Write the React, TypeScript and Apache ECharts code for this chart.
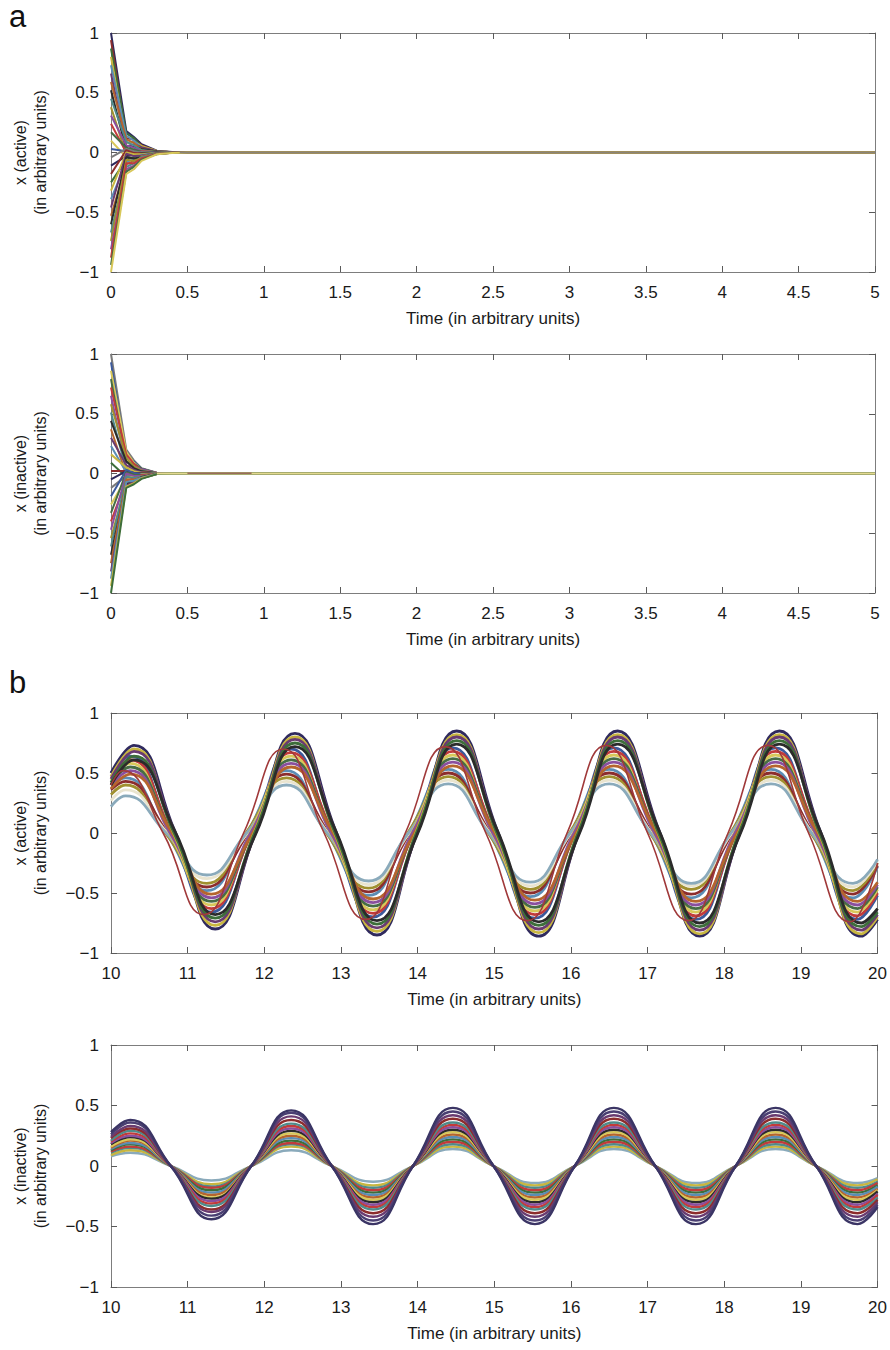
import React, { useEffect, useRef } from "react";
import * as echarts from "echarts";

// ---------- data ----------
const timeA = [0, 0.1, 0.15, 0.2, 0.3, 0.4, 0.5, 5];

// panel a (top): x (active) — values at timeA
const activeA: number[][] = [
  [1.0, 0.18, 0.13, 0.07, 0.015, 0.004, 0, 0],
  [0.94, 0.12, 0.11, 0.06, 0.012, 0.003, 0, 0],
  [0.87, 0.16, 0.12, 0.05, 0.01, 0.003, 0, 0],
  [0.8, 0.08, 0.09, 0.055, 0.012, 0.003, 0, 0],
  [0.73, 0.14, 0.1, 0.04, 0.008, 0.002, 0, 0],
  [0.66, 0.05, 0.07, 0.045, 0.01, 0.002, 0, 0],
  [0.59, 0.11, 0.08, 0.03, 0.006, 0.001, 0, 0],
  [0.52, 0.02, 0.05, 0.03, 0.008, 0.001, 0, 0],
  [0.45, 0.09, 0.06, 0.02, 0.005, 0.001, 0, 0],
  [0.38, -0.02, 0.02, 0.015, 0.004, 0, 0, 0],
  [0.31, 0.06, 0.04, 0.01, 0.003, 0, 0, 0],
  [0.24, 0.0, 0.01, 0.008, 0.002, 0, 0, 0],
  [0.17, 0.04, 0.025, 0.005, 0.001, 0, 0, 0],
  [0.1, -0.04, -0.01, 0.002, 0, 0, 0, 0],
  [0.03, 0.01, 0.005, 0, 0, 0, 0, 0],
  [-0.04, 0.03, 0.01, -0.002, 0, 0, 0, 0],
  [-0.11, -0.03, -0.02, -0.005, -0.001, 0, 0, 0],
  [-0.18, 0.02, -0.005, -0.008, -0.002, 0, 0, 0],
  [-0.25, -0.06, -0.04, -0.01, -0.003, 0, 0, 0],
  [-0.32, 0.0, -0.015, -0.015, -0.004, -0.001, 0, 0],
  [-0.39, -0.08, -0.055, -0.02, -0.005, -0.001, 0, 0],
  [-0.46, -0.01, -0.03, -0.025, -0.006, -0.001, 0, 0],
  [-0.53, -0.1, -0.07, -0.03, -0.007, -0.002, 0, 0],
  [-0.6, -0.04, -0.05, -0.04, -0.009, -0.002, 0, 0],
  [-0.67, -0.12, -0.09, -0.035, -0.009, -0.002, 0, 0],
  [-0.74, -0.06, -0.07, -0.045, -0.011, -0.003, 0, 0],
  [-0.81, -0.14, -0.11, -0.05, -0.012, -0.003, 0, 0],
  [-0.88, -0.09, -0.09, -0.05, -0.012, -0.003, 0, 0],
  [-0.94, -0.16, -0.12, -0.06, -0.014, -0.003, 0, 0],
  [-1.0, -0.18, -0.14, -0.07, -0.015, -0.004, 0, 0],
];

// panel a (second): x (inactive)
const inactiveA: number[][] = [
  [1.0, 0.2, 0.11, 0.045, 0.006, 0.001, 0, 0],
  [0.93, 0.15, 0.1, 0.04, 0.005, 0.001, 0, 0],
  [0.86, 0.18, 0.09, 0.035, 0.004, 0.001, 0, 0],
  [0.79, 0.1, 0.08, 0.04, 0.005, 0.001, 0, 0],
  [0.72, 0.16, 0.08, 0.03, 0.004, 0, 0, 0],
  [0.65, 0.06, 0.06, 0.035, 0.004, 0, 0, 0],
  [0.58, 0.13, 0.06, 0.025, 0.003, 0, 0, 0],
  [0.51, 0.03, 0.04, 0.02, 0.002, 0, 0, 0],
  [0.44, 0.1, 0.045, 0.018, 0.002, 0, 0, 0],
  [0.37, -0.01, 0.015, 0.012, 0.001, 0, 0, 0],
  [0.3, 0.07, 0.03, 0.01, 0.001, 0, 0, 0],
  [0.23, 0.01, 0.01, 0.006, 0, 0, 0, 0],
  [0.16, 0.05, 0.02, 0.004, 0, 0, 0, 0],
  [0.09, -0.03, -0.01, 0.002, 0, 0, 0, 0],
  [0.02, 0.02, 0.005, 0, 0, 0, 0, 0],
  [-0.05, 0.02, 0.005, -0.002, 0, 0, 0, 0],
  [-0.12, -0.02, -0.015, -0.004, 0, 0, 0, 0],
  [-0.19, 0.03, 0.005, -0.006, -0.001, 0, 0, 0],
  [-0.26, -0.04, -0.025, -0.008, -0.001, 0, 0, 0],
  [-0.33, 0.01, -0.01, -0.012, -0.001, 0, 0, 0],
  [-0.4, -0.06, -0.04, -0.015, -0.002, 0, 0, 0],
  [-0.47, 0.0, -0.02, -0.02, -0.002, 0, 0, 0],
  [-0.54, -0.08, -0.05, -0.025, -0.003, 0, 0, 0],
  [-0.61, -0.03, -0.035, -0.03, -0.003, 0, 0, 0],
  [-0.68, -0.09, -0.06, -0.03, -0.003, 0, 0, 0],
  [-0.75, -0.05, -0.05, -0.035, -0.004, 0, 0, 0],
  [-0.82, -0.1, -0.07, -0.04, -0.004, 0, 0, 0],
  [-0.88, -0.07, -0.06, -0.035, -0.004, 0, 0, 0],
  [-0.94, -0.11, -0.08, -0.04, -0.005, 0, 0, 0],
  [-1.0, -0.12, -0.09, -0.045, -0.005, 0, 0, 0],
];

// flat tails at zero after the transient (panels a)
const tailActiveTime = [0.45, 5];
const tailActiveValues = [0, 0];
const tailInactiveTime = [0.3, 5];
const tailInactiveValues = [0, 0];
const tailInactiveDarkTime = [0.5, 0.92];
const tailInactiveDarkValues = [0.002, 0.002];

// panel b: times of start, peaks, crossings, troughs, end (three phase groups + the leading red trace)
const timeBLag = [
  10.0, 10.3, 10.83, 11.36, 11.88, 12.4, 12.93, 13.47, 13.99, 14.51, 15.04,
  15.58, 16.1, 16.61, 17.15, 17.68, 18.2, 18.72, 19.25, 19.79, 20.0,
];
const timeBMid = [
  10.0, 10.25, 10.78, 11.31, 11.83, 12.35, 12.88, 13.42, 13.94, 14.46, 14.99,
  15.53, 16.05, 16.56, 17.1, 17.63, 18.15, 18.67, 19.2, 19.74, 20.0,
];
const timeBLead = [
  10.0, 10.19, 10.72, 11.25, 11.77, 12.29, 12.82, 13.36, 13.88, 14.4, 14.93,
  15.47, 15.99, 16.5, 17.04, 17.57, 18.09, 18.61, 19.14, 19.68, 20.0,
];
const timeBRed = [
  10.0, 10.15, 10.68, 11.21, 11.73, 12.25, 12.78, 13.32, 13.84, 14.36, 14.89,
  15.43, 15.95, 16.46, 17.0, 17.53, 18.05, 18.57, 19.1, 19.64, 20.0,
];

// panel b (third): x (active)
const activeBLag: number[][] = [
  [0.5, 0.73, 0.02, -0.8, 0.0, 0.83, 0.02, -0.85, 0.0, 0.85, 0.02, -0.86, 0.0, 0.85, 0.02, -0.86, 0.0, 0.85, 0.02, -0.86, -0.72],
  [0.47, 0.7, -0.02, -0.77, 0.02, 0.8, -0.02, -0.82, 0.02, 0.82, -0.02, -0.83, 0.02, 0.82, -0.02, -0.84, 0.02, 0.82, -0.02, -0.84, -0.7],
  [0.45, 0.68, 0.01, -0.74, -0.01, 0.78, 0.01, -0.79, -0.01, 0.8, 0.01, -0.8, -0.01, 0.8, 0.01, -0.81, -0.01, 0.8, 0.01, -0.81, -0.68],
  [0.42, 0.64, -0.01, -0.71, 0.01, 0.75, -0.01, -0.76, 0.01, 0.77, -0.01, -0.77, 0.01, 0.77, -0.01, -0.78, 0.01, 0.77, -0.01, -0.78, -0.66],
  [0.4, 0.61, 0.02, -0.68, -0.02, 0.72, 0.02, -0.73, -0.02, 0.74, 0.02, -0.74, -0.02, 0.74, 0.02, -0.75, -0.02, 0.74, 0.02, -0.75, -0.63],
];
const activeBMid: number[][] = [
  [0.5, 0.64, 0.0, -0.66, 0.0, 0.7, 0.0, -0.7, 0.0, 0.71, 0.0, -0.71, 0.0, 0.71, 0.0, -0.72, 0.0, 0.71, 0.0, -0.72, -0.52],
  [0.47, 0.61, 0.02, -0.63, -0.01, 0.67, 0.02, -0.67, -0.01, 0.68, 0.02, -0.68, -0.01, 0.68, 0.02, -0.69, -0.01, 0.68, 0.02, -0.69, -0.5],
  [0.44, 0.58, -0.02, -0.6, 0.02, 0.64, -0.02, -0.64, 0.02, 0.65, -0.02, -0.65, 0.02, 0.65, -0.02, -0.66, 0.02, 0.65, -0.02, -0.66, -0.47],
  [0.42, 0.55, 0.01, -0.57, -0.01, 0.61, 0.01, -0.61, -0.01, 0.62, 0.01, -0.62, -0.01, 0.62, 0.01, -0.63, -0.01, 0.62, 0.01, -0.63, -0.45],
  [0.4, 0.52, -0.01, -0.54, 0.01, 0.58, -0.01, -0.58, 0.01, 0.59, -0.01, -0.59, 0.01, 0.59, -0.01, -0.6, 0.01, 0.59, -0.01, -0.6, -0.43],
  [0.37, 0.49, 0.02, -0.51, -0.02, 0.55, 0.02, -0.55, -0.02, 0.56, 0.02, -0.56, -0.02, 0.56, 0.02, -0.57, -0.02, 0.56, 0.02, -0.57, -0.41],
];
const activeBLead: number[][] = [
  [0.4, 0.46, 0.0, -0.48, 0.0, 0.52, 0.0, -0.52, 0.0, 0.53, 0.0, -0.53, 0.0, 0.53, 0.0, -0.54, 0.0, 0.53, 0.0, -0.54, -0.28],
  [0.36, 0.43, 0.02, -0.45, -0.02, 0.49, 0.02, -0.49, -0.02, 0.5, 0.02, -0.5, -0.02, 0.5, 0.02, -0.51, -0.02, 0.5, 0.02, -0.51, -0.27],
  [0.32, 0.4, -0.01, -0.42, 0.01, 0.46, -0.01, -0.46, 0.01, 0.47, -0.01, -0.47, 0.01, 0.47, -0.01, -0.47, 0.01, 0.47, -0.01, -0.48, -0.25],
  [0.27, 0.36, 0.01, -0.38, -0.01, 0.43, 0.01, -0.43, -0.01, 0.44, 0.01, -0.44, -0.01, 0.44, 0.01, -0.44, -0.01, 0.44, 0.01, -0.45, -0.23],
  [0.22, 0.31, 0.0, -0.35, 0.0, 0.4, 0.0, -0.4, 0.0, 0.41, 0.0, -0.41, 0.0, 0.41, 0.0, -0.42, 0.0, 0.41, 0.0, -0.42, -0.22],
];
const activeBRed: number[] = [
  0.4, 0.52, 0.0, -0.68, 0.0, 0.7, 0.0, -0.72, 0.0, 0.72, 0.0, -0.73, 0.0, 0.73, 0.0, -0.73, 0.0, 0.73, 0.0, -0.74, -0.25,
];

// panel b (fourth): x (inactive), all at timeBMid
const inactiveB: number[][] = [
  [0.08, 0.11, 0, -0.12, 0, 0.13, 0, -0.13, 0, 0.14, 0, -0.14, 0, 0.14, 0, -0.14, 0, 0.14, 0, -0.14, -0.1],
  [0.09, 0.13, 0, -0.15, 0, 0.16, 0, -0.16, 0, 0.16, 0, -0.16, 0, 0.16, 0, -0.16, 0, 0.16, 0, -0.16, -0.11],
  [0.11, 0.15, 0, -0.17, 0, 0.18, 0, -0.18, 0, 0.18, 0, -0.18, 0, 0.18, 0, -0.18, 0, 0.18, 0, -0.18, -0.13],
  [0.12, 0.16, 0, -0.18, 0, 0.19, 0, -0.2, 0, 0.2, 0, -0.2, 0, 0.2, 0, -0.2, 0, 0.2, 0, -0.2, -0.14],
  [0.13, 0.18, 0, -0.2, 0, 0.21, 0, -0.22, 0, 0.22, 0, -0.22, 0, 0.22, 0, -0.22, 0, 0.22, 0, -0.22, -0.16],
  [0.14, 0.19, 0, -0.22, 0, 0.23, 0, -0.24, 0, 0.24, 0, -0.24, 0, 0.24, 0, -0.24, 0, 0.24, 0, -0.24, -0.17],
  [0.15, 0.21, 0, -0.24, 0, 0.25, 0, -0.26, 0, 0.26, 0, -0.26, 0, 0.26, 0, -0.26, 0, 0.26, 0, -0.26, -0.19],
  [0.16, 0.22, 0, -0.26, 0, 0.27, 0, -0.28, 0, 0.28, 0, -0.28, 0, 0.28, 0, -0.28, 0, 0.28, 0, -0.28, -0.2],
  [0.18, 0.24, 0, -0.27, 0, 0.29, 0, -0.3, 0, 0.3, 0, -0.3, 0, 0.3, 0, -0.3, 0, 0.3, 0, -0.3, -0.21],
  [0.19, 0.25, 0, -0.29, 0, 0.31, 0, -0.32, 0, 0.32, 0, -0.32, 0, 0.32, 0, -0.32, 0, 0.32, 0, -0.32, -0.23],
  [0.2, 0.27, 0, -0.31, 0, 0.33, 0, -0.34, 0, 0.34, 0, -0.34, 0, 0.34, 0, -0.34, 0, 0.34, 0, -0.34, -0.24],
  [0.21, 0.29, 0, -0.33, 0, 0.35, 0, -0.36, 0, 0.36, 0, -0.36, 0, 0.36, 0, -0.36, 0, 0.36, 0, -0.36, -0.26],
  [0.23, 0.31, 0, -0.36, 0, 0.38, 0, -0.39, 0, 0.39, 0, -0.39, 0, 0.39, 0, -0.39, 0, 0.39, 0, -0.39, -0.28],
  [0.24, 0.33, 0, -0.38, 0, 0.41, 0, -0.42, 0, 0.42, 0, -0.42, 0, 0.42, 0, -0.42, 0, 0.42, 0, -0.42, -0.3],
  [0.26, 0.36, 0, -0.41, 0, 0.44, 0, -0.45, 0, 0.45, 0, -0.45, 0, 0.45, 0, -0.45, 0, 0.45, 0, -0.45, -0.32],
  [0.28, 0.38, 0, -0.44, 0, 0.46, 0, -0.48, 0, 0.48, 0, -0.48, 0, 0.48, 0, -0.48, 0, 0.48, 0, -0.48, -0.34],
];

const palette = [
  "#2e2a5c", "#8c2d2d", "#3d6e3a", "#c8b640", "#5b8db5", "#6a3b70", "#b5652e", "#2b2b2b",
  "#4f8b8b", "#a0902f", "#8a4f9e", "#c23b3b", "#476d45", "#d8c85a", "#3c5a9c", "#7a7a7a",
];
const lagColors = ["#302a5e", "#c8b640", "#6a3b70", "#3d6e3a", "#2b2b2b"];
const midColors = ["#3c5a9c", "#c23b3b", "#d8c85a", "#476d45", "#8a4f9e", "#b5652e"];
const leadColors = ["#5b8db5", "#8c2d2d", "#a0902f", "#e9e4cf", "#8aaabb"];
const redColor = "#a0393a";
const inactiveBColors = [
  "#8aaabb", "#c8b640", "#4f8b8b", "#c23b3b", "#3d6e3a", "#5b8db5", "#b5652e", "#d8c85a",
  "#2b2b2b", "#8a4f9e", "#c23b3b", "#4f8b8b", "#8c2d2d", "#6a3b70", "#4a3f72", "#3b3565",
];

const panelLabels = ["a", "b"];
const yNames = [
  "x (active)\n(in arbitrary units)",
  "x (inactive)\n(in arbitrary units)",
  "x (active)\n(in arbitrary units)",
  "x (inactive)\n(in arbitrary units)",
];
const xName = "Time (in arbitrary units)";

// ---------- layout ----------
const FONT = "'Liberation Sans', Arial, Helvetica, sans-serif";
const grids = [
  { left: 111, top: 33, width: 764, height: 239 },
  { left: 111, top: 354, width: 764, height: 239 },
  { left: 111, top: 713, width: 768, height: 240 },
  { left: 111, top: 1045, width: 768, height: 242 },
];
const xRanges = [
  { min: 0, max: 5, interval: 0.5 },
  { min: 0, max: 5, interval: 0.5 },
  { min: 10, max: 20, interval: 1 },
  { min: 10, max: 20, interval: 1 },
];

function buildOption() {
  const axisColor = "#7d7d7d";
  const textColor = "#1a1a1a";
  const xAxis: any[] = [];
  const yAxis: any[] = [];
  grids.forEach((_, g) => {
    const r = xRanges[g];
    const tick = { show: true, inside: true, length: 6, lineStyle: { color: "#5a5a5a", width: 1 } };
    xAxis.push({
      gridIndex: g, type: "value", position: "bottom", min: r.min, max: r.max, interval: r.interval,
      axisLine: { show: true, onZero: false, lineStyle: { color: axisColor, width: 1 } },
      axisTick: tick, splitLine: { show: false },
      axisLabel: { fontSize: 17, color: textColor, fontFamily: FONT, margin: 12 },
      name: xName, nameLocation: "middle", nameGap: 38,
      nameTextStyle: { fontSize: 17, color: textColor, fontFamily: FONT },
    });
    xAxis.push({
      gridIndex: g, type: "value", position: "top", min: r.min, max: r.max, interval: r.interval,
      axisLine: { show: true, onZero: false, lineStyle: { color: axisColor, width: 1 } },
      axisTick: tick, splitLine: { show: false }, axisLabel: { show: false },
    });
    yAxis.push({
      gridIndex: g, type: "value", position: "left", min: -1, max: 1, interval: 0.5,
      axisLine: { show: true, onZero: false, lineStyle: { color: axisColor, width: 1 } },
      axisTick: tick, splitLine: { show: false },
      axisLabel: {
        fontSize: 17, color: textColor, fontFamily: FONT, margin: 12,
        formatter: (v: number) => String(v).replace("-", "\u2212"),
      },
      name: yNames[g], nameLocation: "middle", nameGap: 61,
      nameTextStyle: { fontSize: 16, lineHeight: 20, color: textColor, fontFamily: FONT, align: "center" },
    });
    yAxis.push({
      gridIndex: g, type: "value", position: "right", min: -1, max: 1, interval: 0.5,
      axisLine: { show: true, onZero: false, lineStyle: { color: axisColor, width: 1 } },
      axisTick: tick, splitLine: { show: false }, axisLabel: { show: false },
    });
  });

  const series: any[] = [];
  const addLine = (g: number, times: number[], vals: number[], color: string, smooth: number | boolean, width: number) => {
    series.push({
      type: "line", xAxisIndex: 2 * g, yAxisIndex: 2 * g, silent: true,
      showSymbol: false, symbol: "none", smooth,
      data: times.map((t, k) => [t, vals[k]]),
      lineStyle: { width, color },
    });
  };
  const addLines = (g: number, times: number[], lines: number[][], colors: string[], smooth: number | boolean, width: number) => {
    lines.forEach((vals, i) => addLine(g, times, vals, colors[i % colors.length], smooth, width));
  };

  // panel a, active
  addLines(0, timeA, activeA, palette, false, 2);
  addLine(0, tailActiveTime, tailActiveValues, "#8a8478", false, 1.5);
  // panel a, inactive
  addLines(1, timeA, inactiveA, palette.slice().reverse(), false, 2);
  addLine(1, tailInactiveTime, tailInactiveValues, "#e3d98f", false, 1.8);
  addLine(1, tailInactiveDarkTime, tailInactiveDarkValues, "#9a6b5a", false, 1.6);
  // panel b, active
  addLines(2, timeBLead, activeBLead, leadColors, 0.5, 2.8);
  addLines(2, timeBMid, activeBMid, midColors, 0.5, 2.8);
  addLines(2, timeBLag, activeBLag, lagColors, 0.5, 2.8);
  addLine(2, timeBRed, activeBRed, redColor, 0.5, 1.6);
  // panel b, inactive
  addLines(3, timeBMid, inactiveB, inactiveBColors, 0.5, 2.4);

  return {
    animation: false,
    backgroundColor: "#ffffff",
    grid: grids.map((gr) => ({ ...gr, containLabel: false })),
    xAxis,
    yAxis,
    series,
    graphic: [
      { type: "text", left: 9, top: 1, style: { text: panelLabels[0], fontSize: 31, fill: "#111", fontFamily: FONT } },
      { type: "text", left: 9, top: 667, style: { text: panelLabels[1], fontSize: 31, fill: "#111", fontFamily: FONT } },
    ],
  };
}

export default function App() {
  const ref = useRef<HTMLDivElement>(null);
  useEffect(() => {
    if (!ref.current) return;
    const chart = echarts.init(ref.current, undefined, { renderer: "svg" });
    chart.setOption(buildOption() as any);
    return () => chart.dispose();
  }, []);
  return (
    <div
      ref={ref}
      style={{ position: "absolute", left: 0, top: 0, width: 890, height: 1350, background: "#fff" }}
    />
  );
}
